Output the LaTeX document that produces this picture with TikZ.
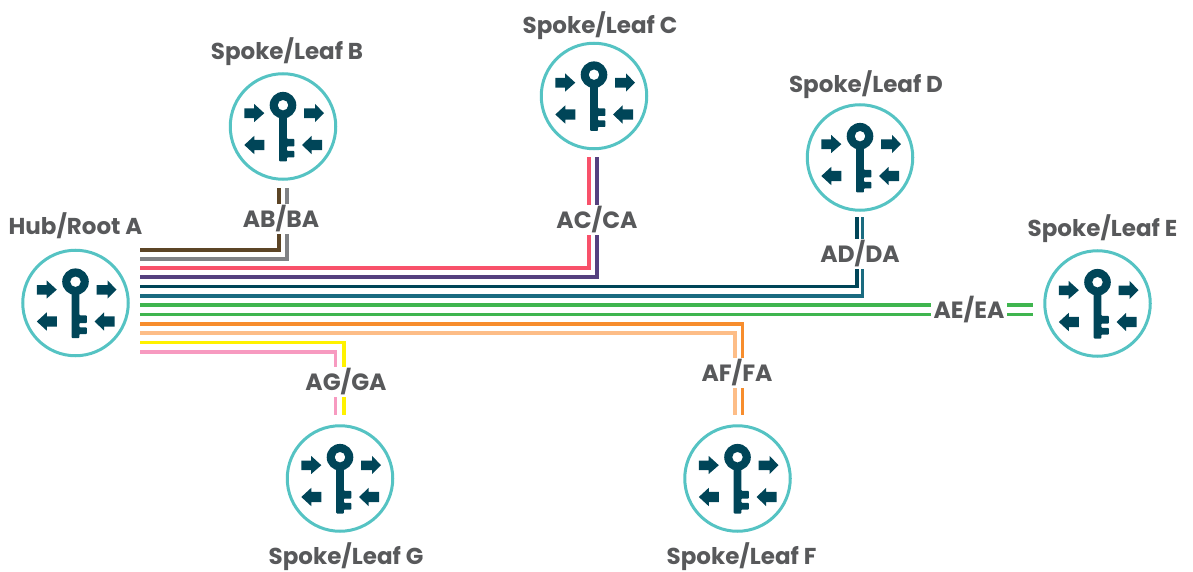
\documentclass[tikz,border=0pt]{standalone}
\usepackage{fontspec}
\setmainfont{Poppins}
\usetikzlibrary{positioning}
\definecolor{ringteal}{HTML}{55C3C3}
\definecolor{keyblue}{HTML}{004558}
\definecolor{labelgrey}{HTML}{58595B}
\definecolor{wirebrown}{HTML}{5C4526}
\definecolor{wiregrey}{HTML}{808285}
\definecolor{wirered}{HTML}{F8516A}
\definecolor{wirepurple}{HTML}{55417F}
\definecolor{wireteal}{HTML}{1A6B80}
\definecolor{wiregreen}{HTML}{3FB54F}
\definecolor{wireorange}{HTML}{F78D2D}
\definecolor{wirepeach}{HTML}{FDBD87}
\definecolor{wireyellow}{HTML}{FFF200}
\definecolor{wirepink}{HTML}{F79AC0}
\begin{document}
\begin{tikzpicture}
		[x=1pt,y=-1pt,
		router/.style={circle,draw=ringteal,line width=3pt,fill=white,minimum size=105.5pt,inner sep=0pt},
		routername/.style={text=labelgrey,font=\fontsize{23}{25}\selectfont\bfseries,inner sep=0pt},
		pairname/.style={text=labelgrey,font=\fontsize{23.5}{25}\selectfont\bfseries,fill=white,inner xsep=3pt,inner ysep=0pt,minimum height=30pt},
		wire/.style={line width=3.2pt},
		keyicon/.pic={
			\fill[keyblue,even odd rule] (0,-21.3) circle (13.3) (0,-21.3) circle (5.3);
			\fill[keyblue,rounded corners=0.8pt] (-3.8,-12) -- (-3.8,35) -- (3.8,35) -- (3.8,31) -- (11.3,31) -- (11.3,24.3) -- (3.8,24.3) -- (3.8,20) -- (11.3,20) -- (11.3,12.3) -- (3.8,12.3) -- (3.8,-12) -- cycle;
			\fill[keyblue] (-38.7,-18) -- (-29,-18) -- (-29,-22.7) -- (-18.7,-13.3) -- (-29,-4.3) -- (-29,-8.3) -- (-38.7,-8.3) -- cycle;
			\fill[keyblue] (21,-18) -- (32,-18) -- (32,-22.7) -- (41,-13.3) -- (32,-4.3) -- (32,-8.3) -- (21,-8.3) -- cycle;
			\fill[keyblue] (-38.7,18.5) -- (-28.7,9.3) -- (-28.7,13.3) -- (-18.7,13.3) -- (-18.7,23.7) -- (-28.7,23.7) -- (-28.7,27.7) -- cycle;
			\fill[keyblue] (19,18.5) -- (28.7,9.3) -- (28.7,13.3) -- (39,13.3) -- (39,23.7) -- (28.7,23.7) -- (28.7,27.7) -- cycle;
		}]
		\useasboundingbox (0,0) rectangle (1193,572);
		% routers
		\node[router] (a) at (75.5,303) {};
		\node[router] (b) at (283,126.5) {};
		\node[router] (c) at (594,96) {};
		\node[router] (d) at (860,157.5) {};
		\node[router] (e) at (1097.5,303.5) {};
		\node[router] (f) at (737.5,478.5) {};
		\node[router] (g) at (340,478.5) {};
		\pic at (a) {keyicon};
		\pic at (b) {keyicon};
		\pic at (c) {keyicon};
		\pic at (d) {keyicon};
		\pic at (e) {keyicon};
		\pic at (f) {keyicon};
		\pic at (g) {keyicon};
		\node[routername,above=10pt of a] (aname) {Hub/Root A};
		\node[routername,above=6pt of b,xshift=4pt] (bname) {Spoke/Leaf B};
		\node[routername,above=2pt of c,xshift=6pt] (cname) {Spoke/Leaf C};
		\node[routername,above=4pt of d,xshift=6pt] (dname) {Spoke/Leaf D};
		\node[routername,above=6pt of e,xshift=5pt] (ename) {Spoke/Leaf E};
		\node[routername,below=9.5pt of f,xshift=4pt] (fname) {Spoke/Leaf F};
		\node[routername,below=9.5pt of g,xshift=6pt] (gname) {Spoke/Leaf G};
		% wire ends
		\coordinate (a1) at (140,250);
		\coordinate (a2) at (140,259);
		\coordinate (a3) at (140,268);
		\coordinate (a4) at (140,277);
		\coordinate (a5) at (140,286.5);
		\coordinate (a6) at (140,296);
		\coordinate (a7) at (140,305);
		\coordinate (a8) at (140,314.5);
		\coordinate (a9) at (140,324);
		\coordinate (a10) at (140,333);
		\coordinate (a11) at (140,342.5);
		\coordinate (a12) at (140,352);
		\coordinate (b1) at (279,188);
		\coordinate (b2) at (287,188);
		\coordinate (c1) at (589,157);
		\coordinate (c2) at (597,157);
		\coordinate (d1) at (857,217);
		\coordinate (d2) at (862.5,217);
		\coordinate (e1) at (1033,305);
		\coordinate (e2) at (1033,314.5);
		\coordinate (f1) at (735,415);
		\coordinate (f2) at (742.5,415);
		\coordinate (g1) at (335.5,415);
		\coordinate (g2) at (344,415);
		% wires
		\draw[wire,wirebrown] (a1) -| (b1);
		\draw[wire,wiregrey] (a2) -| (b2);
		\draw[wire,wirered] (a3) -| (c1);
		\draw[wire,wirepurple] (a4) -| (c2);
		\draw[wire,keyblue] (a5) -| (d1);
		\draw[wire,wireteal] (a6) -| (d2);
		\draw[wire,wiregreen] (a7) -- (e1);
		\draw[wire,wiregreen] (a8) -- (e2);
		\draw[wire,wireorange] (a9) -| (f2);
		\draw[wire,wirepeach] (a10) -| (f1);
		\draw[wire,wireyellow] (a11) -| (g2);
		\draw[wire,wirepink] (a12) -| (g1);
		% pair labels
		\node[pairname] (ab) at (281,219) {AB/BA};
		\node[pairname] (ac) at (597,220) {AC/CA};
		\node[pairname] (ad) at (860,254) {AD/DA};
		\node[pairname] (ae) at (969,310) {AE/EA};
		\node[pairname] (af) at (737,373) {AF/FA};
		\node[pairname] (ag) at (346,382) {AG/GA};
	\end{tikzpicture}
\end{document}
